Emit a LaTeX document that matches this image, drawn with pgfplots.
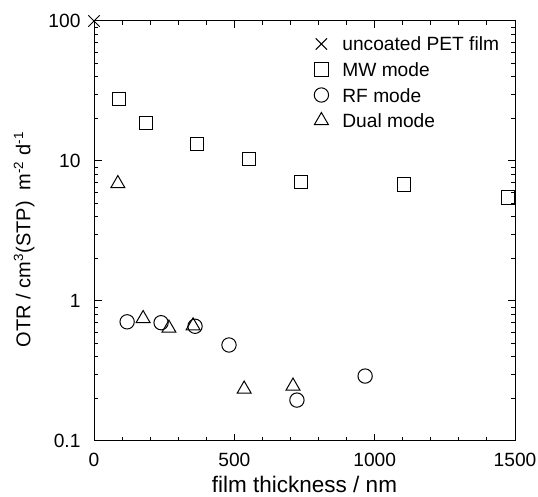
\documentclass[border=0pt]{standalone}
\usepackage{fontspec}
\setmainfont{Liberation Sans}
\usepackage{pgfplots}
\pgfplotsset{compat=1.18}
\begin{document}
\begin{tikzpicture}
\pgfplotsset{
  myleg/.style={legend image code/.code={%
    \draw[##1] plot coordinates {(0pt,0pt)};
    \path[draw=none,fill=none] (-5pt,-5pt) (12.6pt,5pt);}},
}
\begin{axis}[
  width=252.6pt, height=252pt, scale only axis,
  xmin=0, xmax=1500, ymin=0.1, ymax=100, ymode=log,
  xtick={0,500,1000,1500}, xticklabels={0,500,1000,1500},
  minor x tick num=4,
  ytick={0.1,1,10,100}, yticklabels={0.1,1,10,100},
  tick align=inside, major tick length=4.5pt, minor tick length=2.5pt,
  tick style={line width=0.6pt, black},
  axis line style={line width=0.6pt},
  xticklabel style={font=\fontsize{11.5}{13}\selectfont, anchor=base, yshift=-15pt},
  yticklabel style={font=\fontsize{11.5}{13}\selectfont, xshift=-4.6pt},
  xlabel={film thickness / nm},
  xlabel style={font=\fontsize{13.5}{15}\selectfont, at={([yshift=-31.2pt]rel axis cs:0.5,0)}, anchor=base},
  ylabel={OTR / cm\textsuperscript{3}(STP)\ \ m\textsuperscript{-2}\ d\textsuperscript{-1}},
  ylabel style={font=\fontsize{12}{14}\selectfont, at={([xshift=-38.1pt,yshift=-5pt]rel axis cs:0,0.5)}, anchor=base},
  clip=false,
  legend style={draw=none, fill=none, inner sep=0pt, outer sep=0pt,
    at={([xshift=-9.6pt,yshift=-8.8pt]rel axis cs:1,1)}, anchor=north east,
    font=\fontsize{11.5}{13}\selectfont, row sep=5.3pt,
    nodes={inner sep=0pt, outer sep=0pt, text height=8.4pt, text depth=0pt}},
  legend cell align=left,
]
\addplot[only marks, mark=x, mark size=4.8pt, line width=0.6pt, myleg] coordinates {(0,100)};
\addlegendentry{uncoated PET film}
\addplot[only marks, mark=square, mark size=4pt, line width=0.6pt, myleg] coordinates {
(89,27.7) (185,18.7) (367,13.2) (552,10.3) (738,7.1) (1105,6.8) (1475,5.5)};
\addlegendentry{MW mode}
\addplot[only marks, mark=o, mark size=4.3pt, line width=0.6pt, myleg] coordinates {
(118,0.71) (239,0.70) (360,0.66) (481,0.485) (723,0.196) (966,0.291)};
\addlegendentry{RF mode}
\addplot[only marks, mark=triangle, mark size=4.8pt, line width=0.6pt, myleg] coordinates {
(85,6.9) (175,0.75) (267,0.64) (353,0.665) (535,0.235) (709,0.247)};
\addlegendentry{Dual mode}
\coordinate (ll) at (rel axis cs:0,0);
\coordinate (ur) at (rel axis cs:1,1);
\end{axis}
\pgfresetboundingbox
\path ([xshift=-56.4pt,yshift=-33.6pt]ll) rectangle ([xshift=13.8pt,yshift=12.6pt]ur);
\end{tikzpicture}
\end{document}
